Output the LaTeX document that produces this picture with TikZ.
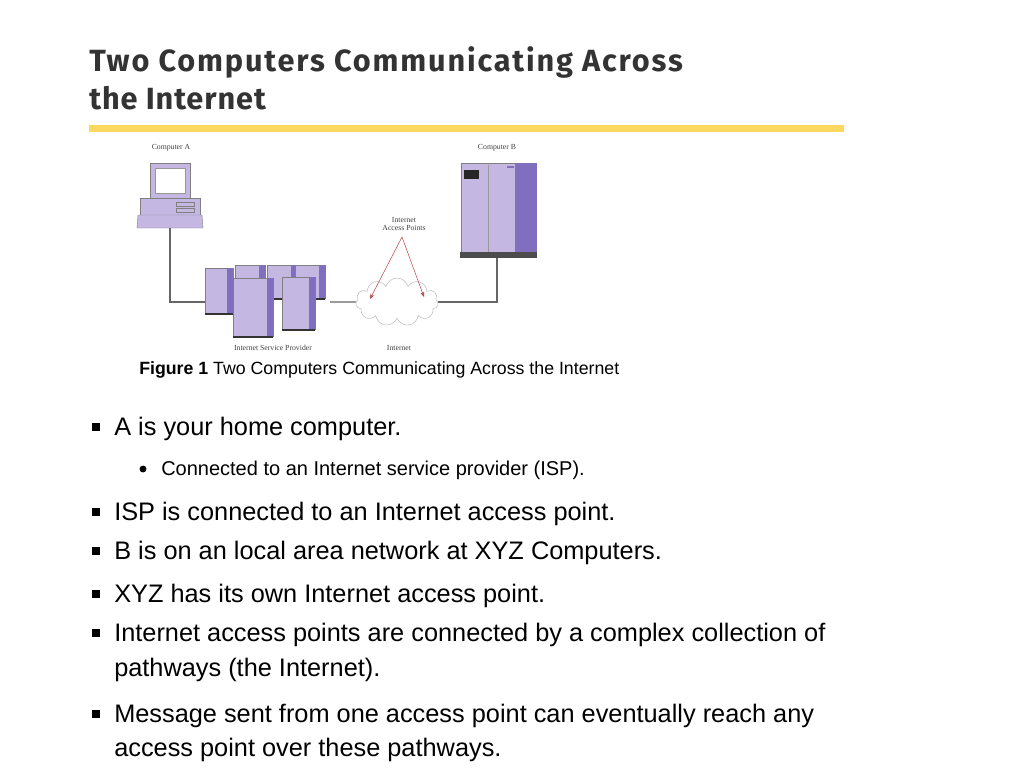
\documentclass[tikz,border=0pt]{standalone}
\usepackage{fontspec}
\setmainfont{Liberation Sans}
\newfontfamily\titlefont{Fira Sans}
\newfontfamily\figfont{Liberation Serif}
\usetikzlibrary{arrows.meta, positioning, shapes.symbols}
\definecolor{purp}{RGB}{196,184,226}
\definecolor{purpdark}{RGB}{128,110,190}
\definecolor{barY}{RGB}{252,216,96}
\begin{document}
\begin{tikzpicture}[
  x=0.75pt, y=-0.75pt,
  every node/.style={inner sep=0pt},
  lbl/.style={font=\figfont\fontsize{5.8}{6.5}\selectfont, text=black!75, align=center},
  bullettext/.style={anchor=base west, font=\fontsize{19}{22}\selectfont},
  subtext/.style={anchor=base west, font=\fontsize{15}{18}\selectfont},
  sqbullet/.style={fill=black, minimum size=6pt, inner sep=0pt},
  wire/.style={draw=black!60, line width=0.9pt},
  box/.style={draw=black!50, fill=purp, line width=0.3pt}
]
\useasboundingbox (0,0) rectangle (1024,768);
% Title
\node[anchor=base west, font=\titlefont\bfseries\fontsize{23}{28}\selectfont\addfontfeature{LetterSpace=6}, text=black!80] (title1) at (89,71) {Two Computers Communicating Across};
\node[anchor=base west, font=\titlefont\bfseries\fontsize{23}{28}\selectfont\addfontfeature{LetterSpace=3}, text=black!80] (title2) at (89,109) {the Internet};
\fill[barY] (89,125) rectangle (844,132);

% Computer A
\draw[box] (150,163) rectangle (190,198);
\fill[white, draw=black!40] (155,168) rectangle (185,193);
\draw[box] (140,198) rectangle (200,215);
\draw[box] (176,202) rectangle (194,206);
\draw[box] (176,208) rectangle (194,212);
\draw[box] (138,215) -- (202,215) -- (203,228) -- (137,228) -- cycle;
\coordinate (compA) at (170,228);
\node[lbl] (labelA) at (171,148) {Computer A};

% Computer B
\draw[box] (461,163) rectangle (515,252);
\fill[purpdark] (515,163) rectangle (537,252);
\draw[black!40] (488,165) -- (488,252);
\fill[black!85] (464,170) rectangle (479,179);
\fill[purpdark] (507,166) rectangle (514,168);
\fill[black!70] (460,252) rectangle (537,258);
\coordinate (compB) at (497,258);
\node[lbl] (labelB) at (497,148) {Computer B};

% ISP servers
\foreach \x/\y/\w/\h in {235/265/30/33, 267/265/30/33, 295/265/30/33, 205/268/28/45, 282/277/33/52, 233/278/40/58}{
  \draw[box] (\x,\y) rectangle ++(\w,\h);
  \fill[purpdark] ({\x+\w-6},\y) rectangle ++(6,\h);
  \fill[black!80] (\x,{\y+\h}) rectangle ++(\w,2);
}
\coordinate (ispL) at (205,302);
\coordinate (ispR) at (330,302);
\node[lbl] (labelISP) at (273,348) {Internet Service Provider};

% Internet cloud
\node[cloud, cloud puffs=11, aspect=1.3, draw=black!25, fill=white, minimum width=62pt, minimum height=36pt] (cloud) at (397,302) {};
\node[lbl] (labelNet) at (399,348) {Internet};
\node[lbl] (labelAP) at (404,224) {Internet\\Access Points};

% Connections
\draw[wire] (compA) |- (ispL);
\draw[wire] (ispR) -- (cloud.west);
\draw[wire] (cloud.east) -| (compB);
\draw[-{Stealth[length=4pt]}, draw=red!60!black!70, line width=0.4pt] (402,237) -- (370,299);
\draw[-{Stealth[length=4pt]}, draw=red!60!black!70, line width=0.4pt] (402,237) -- (424,297);

% Caption
\node[anchor=base west, font=\fontsize{13.3}{16}\selectfont] (caption) at (139,374) {\textbf{Figure 1} Two Computers Communicating Across the Internet};

% Bullets
\foreach \yy/\txt in {435/A is your home computer., 520/ISP is connected to an Internet access point., 559/B is on an local area network at XYZ Computers., 602/XYZ has its own Internet access point., 641/Internet access points are connected by a complex collection of, 722/Message sent from one access point can eventually reach any}{
  \node[sqbullet] at (96,\yy-8) {};
  \node[bullettext] at (114,\yy) {\txt};
}
\node[bullettext] (cont1) at (114,676) {pathways (the Internet).};
\node[bullettext] (cont2) at (114,756) {access point over these pathways.};
\fill (143,469) circle (2.6pt);
\node[subtext] (sub1) at (161,475) {Connected to an Internet service provider (ISP).};
\end{tikzpicture}
\end{document}
